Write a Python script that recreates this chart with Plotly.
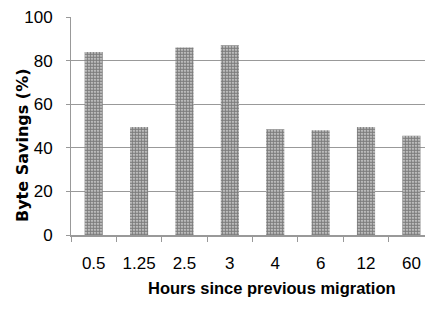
import plotly.graph_objects as go

categories = ["0.5", "1.25", "2.5", "3", "4", "6", "12", "60"]
savings = [84, 49.5, 86, 87, 48.5, 48, 49.5, 45.5]
y_ticks = [0, 20, 40, 60, 80, 100]

narrow = "Liberation Sans Narrow, Arial Narrow, sans-serif"

fig = go.Figure()
fig.add_trace(go.Bar(
    x=categories, y=savings,
    width=0.4,
    marker=dict(
        color="white",
        line=dict(width=0),
        pattern=dict(shape=".", fgcolor="#111111", bgcolor="#e8e8e8",
                     size=3, solidity=0.75, fillmode="overlay"),
    ),
))

fig.update_layout(
    width=425, height=313,
    margin=dict(l=71, r=0, t=17, b=78, autoexpand=False),
    paper_bgcolor="white", plot_bgcolor="white",
    showlegend=False,
    font=dict(family=narrow, size=17, color="black"),
    xaxis=dict(
        type="category", range=[-0.5, 7.3], automargin=False,
        tickson="boundaries", ticks="outside", ticklen=5, tickcolor="#999999",
        showline=True, linecolor="#999999", linewidth=2,
        showgrid=False, tickfont=dict(family=narrow, size=17),
        ticklabelstandoff=12,
    ),
    yaxis=dict(
        range=[0, 100], tickvals=y_ticks, ticks="outside", ticklen=4,
        tickcolor="#999999", automargin=False,
        showline=True, linecolor="#999999", linewidth=1,
        showgrid=True, gridcolor="#999999", gridwidth=1,
        zeroline=False,
        tickfont=dict(family=narrow, size=17),
        ticklabelstandoff=10,
    ),
    annotations=[
        dict(text="<b>Byte Savings (%)</b>", textangle=-90,
             xref="paper", yref="paper", x=-(71 - 22) / 354, y=(235 - 145) / 218,
             xanchor="center", yanchor="middle", showarrow=False,
             font=dict(family="DejaVu Sans", size=16, color="black")),
        dict(text="<b>Hours since previous migration</b>",
             xref="paper", yref="paper", x=(272 - 71) / 354, y=-(288 - 235) / 218,
             xanchor="center", yanchor="middle", showarrow=False,
             font=dict(family=narrow, size=16.5, color="black")),
    ],
)

fig.write_html(
    "out.html",
    config={"displayModeBar": False},
    post_script="document.body.style.margin='0px';document.body.style.overflow='hidden';",
)
